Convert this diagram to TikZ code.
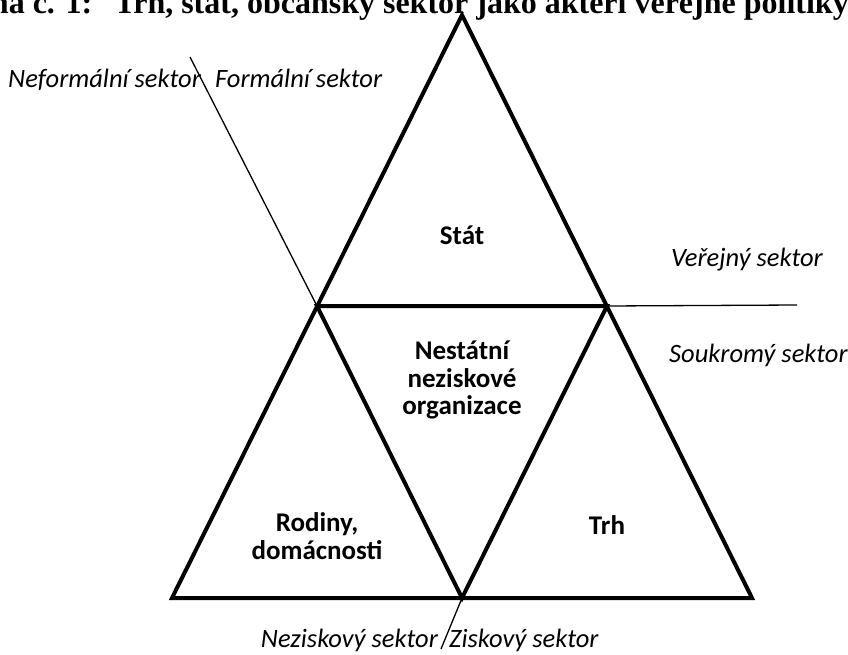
\documentclass[tikz,border=0pt]{standalone}
\usepackage{fontspec}
\setmainfont{Carlito}
\newfontfamily\titlefont{Liberation Serif}
\begin{document}
\begin{tikzpicture}[x=1pt,y=-1pt,
  thickline/.style={line width=4pt, line join=miter},
  thinline/.style={line width=1.3pt},
  lab/.style={font=\fontsize{26.5}{30}\selectfont\itshape, inner sep=0pt},
  inlab/.style={font=\fontsize{27}{27.5}\selectfont\bfseries, align=center, inner sep=0pt}]
\useasboundingbox (0,0) rectangle (848,655);
\begin{scope}
\clip (0,0) rectangle (848,655);
\node[anchor=base east, font=\titlefont\bfseries\fontsize{32}{36}\selectfont, inner sep=0pt] (title) at (849,14) {Schéma č. 1:\hspace{22pt}Trh, stát, občanský sektor jako aktéři veřejné politiky};
\end{scope}
% vertices
\coordinate (A) at (462,15);
\coordinate (B) at (172,598);
\coordinate (C) at (752,598);
\coordinate (D) at (317,306);
\coordinate (E) at (607,306);
\coordinate (F) at (462,598);
% thin divider ends
\coordinate (P) at (190,57);
\coordinate (Q) at (797,305);
\coordinate (R) at (441,649);
\draw[thinline] (P) -- (D);
\draw[thinline] (E) -- (Q);
\draw[thinline] (F) -- (R);
\draw[thickline] (A) -- (B) -- (C) -- cycle;
\draw[thickline] (D) -- (E) -- (F) -- cycle;
% labels
\node[lab, anchor=base west] (nef) at (8,88) {Neformální sektor};
\node[lab, anchor=base west] (for) at (215,88) {Formální sektor};
\node[lab, anchor=base west] (ver) at (671,266) {Veřejný sektor};
\node[lab, anchor=base west] (sou) at (669,362) {Soukromý sektor};
\node[lab, anchor=base east] (nez) at (438,647) {Neziskový sektor};
\node[lab, anchor=base west] (zis) at (449,647) {Ziskový sektor};
\node[inlab] (stat) at (462,235) {Stát};
\node[inlab] (nno) at (462,380) {Nestátní\\neziskové\\organizace};
\node[inlab] (rod) at (317,536) {Rodiny,\\domácnosti};
\node[inlab] (trh) at (607,525) {Trh};
\end{tikzpicture}
\end{document}
